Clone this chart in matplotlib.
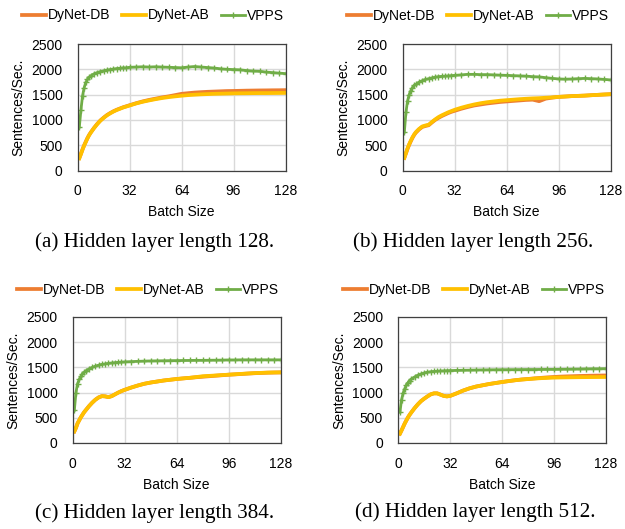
import matplotlib
matplotlib.use("Agg")
import matplotlib.pyplot as plt

plt.rcParams['font.family'] = ['Liberation Sans', 'DejaVu Sans']

batch = [1, 2, 3, 4, 5, 6, 7, 8, 10, 12, 14, 16, 18, 20, 22, 24, 26, 28, 30, 32,
         36, 40, 44, 48, 52, 56, 60, 64, 68, 72, 76, 80, 84, 88, 92, 96, 100, 104,
         108, 112, 116, 120, 124, 128]

# (a) hidden 128
db_128 = [250, 330, 420, 500, 570, 640, 700, 750, 840, 920, 990, 1045, 1095, 1135,
          1170, 1200, 1225, 1250, 1270, 1290, 1330, 1365, 1395, 1420, 1445, 1465,
          1490, 1515, 1528, 1540, 1548, 1555, 1560, 1565, 1570, 1572, 1575, 1578,
          1580, 1582, 1583, 1585, 1586, 1588]
ab_128 = [240, 325, 415, 495, 565, 635, 695, 745, 835, 915, 985, 1040, 1090, 1130,
          1165, 1195, 1220, 1245, 1265, 1285, 1325, 1358, 1385, 1410, 1432, 1450,
          1465, 1478, 1490, 1498, 1505, 1510, 1515, 1518, 1521, 1524, 1526, 1527,
          1529, 1530, 1530, 1531, 1532, 1533]
vpps_128 = [860, 1200, 1480, 1640, 1740, 1800, 1840, 1870, 1910, 1935, 1955, 1970,
            1985, 1995, 2005, 2015, 2020, 2030, 2030, 2040, 2045, 2050, 2045, 2050,
            2045, 2040, 2035, 2030, 2045, 2055, 2045, 2035, 2025, 2010, 2000, 1995,
            1990, 1975, 1965, 1960, 1945, 1935, 1925, 1915]

# (b) hidden 256
db_256 = [250, 340, 430, 510, 580, 645, 700, 745, 810, 860, 880, 895, 950, 1000,
          1040, 1075, 1105, 1135, 1160, 1180, 1220, 1255, 1285, 1305, 1325, 1340,
          1355, 1365, 1375, 1385, 1395, 1400, 1370, 1420, 1440, 1455, 1462, 1470,
          1475, 1480, 1488, 1495, 1502, 1508]
ab_256 = [250, 345, 440, 520, 590, 655, 710, 755, 820, 870, 890, 905, 960, 1010,
          1055, 1090, 1120, 1150, 1175, 1200, 1240, 1275, 1305, 1330, 1350, 1365,
          1380, 1390, 1400, 1410, 1418, 1425, 1430, 1438, 1445, 1455, 1462, 1470,
          1475, 1480, 1488, 1495, 1502, 1508]
vpps_256 = [760, 1150, 1380, 1500, 1580, 1640, 1680, 1700, 1745, 1775, 1800, 1815,
            1830, 1845, 1855, 1860, 1865, 1870, 1875, 1880, 1890, 1900, 1900, 1895,
            1895, 1890, 1885, 1880, 1875, 1870, 1865, 1855, 1850, 1835, 1820, 1810,
            1805, 1808, 1815, 1820, 1815, 1810, 1800, 1790]

# (c) hidden 384
db_384 = [230, 300, 390, 450, 510, 560, 610, 650, 730, 800, 860, 905, 930, 925, 910,
          930, 965, 1000, 1030, 1055, 1100, 1140, 1175, 1200, 1220, 1240, 1255, 1270,
          1282, 1293, 1305, 1315, 1325, 1335, 1345, 1355, 1362, 1370, 1378, 1385,
          1390, 1395, 1398, 1400]
ab_384 = [230, 300, 390, 450, 510, 560, 610, 650, 730, 800, 860, 905, 930, 925, 910,
          930, 965, 1000, 1030, 1055, 1100, 1140, 1175, 1200, 1220, 1240, 1255, 1270,
          1282, 1293, 1308, 1325, 1332, 1340, 1348, 1356, 1364, 1372, 1380, 1387,
          1392, 1397, 1400, 1402]
vpps_384 = [650, 1000, 1180, 1260, 1320, 1370, 1400, 1430, 1470, 1500, 1525, 1545,
            1560, 1570, 1580, 1588, 1595, 1600, 1605, 1610, 1615, 1620, 1625, 1628,
            1630, 1632, 1634, 1635, 1637, 1638, 1640, 1640, 1642, 1643, 1645, 1648,
            1648, 1650, 1650, 1650, 1650, 1650, 1650, 1650]

# (d) hidden 512
db_512 = [185, 250, 320, 390, 450, 510, 560, 605, 690, 765, 830, 880, 925, 965, 985,
          985, 960, 935, 925, 935, 985, 1040, 1085, 1120, 1145, 1170, 1190, 1210,
          1228, 1245, 1260, 1270, 1282, 1292, 1302, 1310, 1317, 1322, 1326, 1330,
          1333, 1336, 1338, 1340]
ab_512 = [185, 250, 320, 390, 450, 510, 560, 605, 690, 765, 830, 880, 925, 965, 985,
          985, 960, 935, 925, 935, 985, 1040, 1085, 1120, 1145, 1170, 1190, 1210,
          1228, 1245, 1258, 1268, 1278, 1286, 1292, 1297, 1300, 1302, 1304, 1306,
          1307, 1308, 1309, 1310]
vpps_512 = [610, 860, 990, 1080, 1150, 1200, 1240, 1270, 1310, 1345, 1370, 1390,
            1405, 1415, 1420, 1425, 1430, 1432, 1435, 1437, 1440, 1443, 1445, 1448,
            1450, 1452, 1453, 1455, 1455, 1456, 1457, 1458, 1458, 1459, 1460, 1460,
            1462, 1463, 1465, 1467, 1470, 1472, 1473, 1475]

captions = ['(a) Hidden layer length 128.', '(b) Hidden layer length 256.',
            '(c) Hidden layer length 384.', '(d) Hidden layer length 512.']
x_ticks = [0, 32, 64, 96, 128]
y_ticks = [0, 500, 1000, 1500, 2000, 2500]

panels = [(db_128, ab_128, vpps_128), (db_256, ab_256, vpps_256),
          (db_384, ab_384, vpps_384), (db_512, ab_512, vpps_512)]

W, H = 625, 529
fig = plt.figure(figsize=(W / 100, H / 100), dpi=100)

# pixel boxes: left, top, right, bottom
boxes = [(77.7, 44, 285.5, 170.5), (402.7, 44, 610.7, 170.5),
         (72.7, 317, 280.7, 443), (398.3, 317, 605.7, 443)]
legend_pos = [(153, 15.5), (478, 16), (148, 290), (474, 290)]
caption_pos = [(155, 242), (473, 242), (155, 513), (475, 512)]

for i, (db, ab, vpps) in enumerate(panels):
    l, t, r, b = boxes[i]
    ax = fig.add_axes([l / W, 1 - b / H, (r - l) / W, (b - t) / H])
    h1, = ax.plot(batch, db, color='#ED7D31', lw=2.7, label='DyNet-DB')
    h2, = ax.plot(batch, ab, color='#FFC000', lw=2.7, label='DyNet-AB')
    h3, = ax.plot(batch, vpps, color='#70AD47', lw=2.0, marker='+', ms=4.5,
                  mew=1, label='VPPS')
    ax.set_xlim(0, 128)
    ax.set_ylim(0, 2500)
    ax.set_xticks(x_ticks)
    ax.set_yticks(y_ticks)
    ax.grid(True, color='#D9D9D9', lw=1)
    ax.set_axisbelow(True)
    for s in ax.spines.values():
        s.set_color('#404040')
        s.set_linewidth(0.9)
    ax.tick_params(length=0, labelsize=10)
    ax.tick_params(axis='y', pad=11)
    ax.tick_params(axis='x', pad=10)
    ax.set_xlabel('Batch Size', fontsize=10, labelpad=5)
    ax.set_ylabel('Sentences/Sec.', fontsize=10, labelpad=4)

    cx, cy = legend_pos[i]
    fig.legend([h1, h2, h3], ['DyNet-DB', 'DyNet-AB', 'VPPS'], loc='center',
               bbox_to_anchor=(cx / W, 1 - cy / H), ncol=3, frameon=False,
               fontsize=10, handlelength=1.75, handletextpad=0.15,
               columnspacing=0.8, borderpad=0)

    cx, cy = caption_pos[i]
    fig.text(cx / W, 1 - cy / H, captions[i], ha='center', va='center',
             family='Liberation Serif', fontsize=15.2)

fig.savefig('out.png', dpi=100)
